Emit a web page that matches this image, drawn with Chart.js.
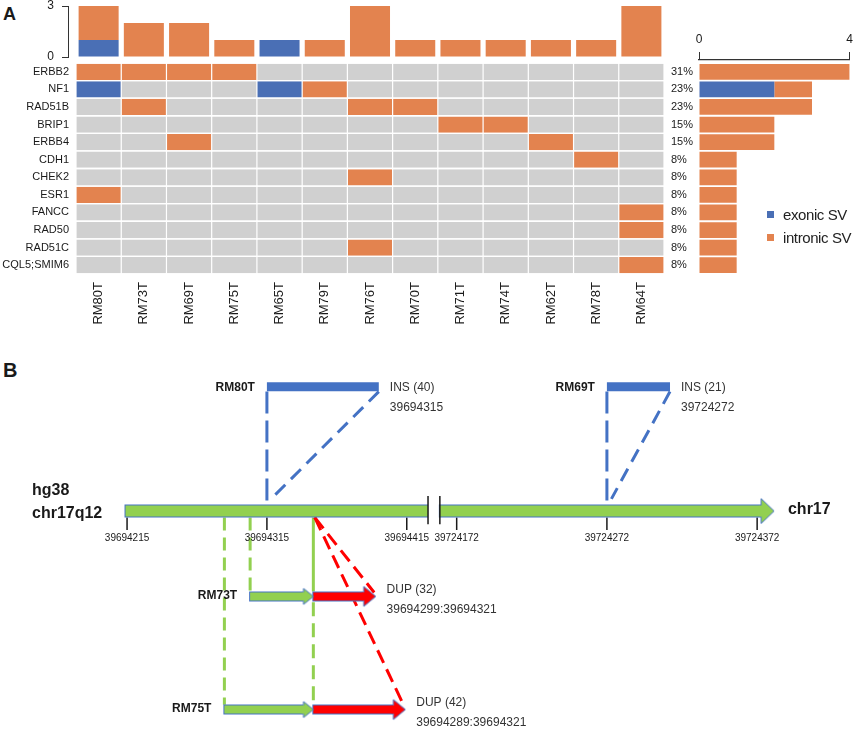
<!DOCTYPE html>
<html>
<head>
<meta charset="utf-8">
<script src="https://cdn.jsdelivr.net/npm/chart.js@4.4.1/dist/chart.umd.min.js"></script>
<style>
  body { margin: 0; background: #fff; }
  #fig { position: relative; width: 858px; height: 735px; overflow: hidden;
         font-family: "Liberation Sans", Arial, sans-serif; color: #1a1a1a; }
  .box { position: absolute; }
  .panel { position: absolute; font-weight: bold; line-height: 1; }
  #legend { position: absolute; left: 767px; top: 203px; font-size: 15px; color: #222; }
  #legend div { height: 23px; line-height: 23px; letter-spacing: -0.4px; white-space: nowrap; }
  #legend span { display: inline-block; width: 7px; height: 7px; margin-right: 9px; vertical-align: middle; position: relative; top: -2px; }
</style>
</head>
<body>
<div id="fig">
  <div class="panel" style="left:3px;top:5px;font-size:18px">A</div>
  <div class="panel" style="left:3px;top:360px;font-size:20px">B</div>

  <div class="box" style="left:0;top:0;width:670px;height:63px"><canvas id="topBars"></canvas></div>
  <div class="box" style="left:0;top:63px;width:670px;height:266px"><canvas id="grid"></canvas></div>
  <div class="box" style="left:671px;top:0;width:187px;height:280px"><canvas id="geneBars"></canvas></div>
  <div class="box" style="left:0;top:330px;width:858px;height:405px"><canvas id="svMap"></canvas></div>

  <div id="legend">
    <div><span style="background:#4A6FB5"></span>exonic SV</div>
    <div><span style="background:#E3834F"></span>intronic SV</div>
  </div>
</div>

<script>
// ---------- panel A data ----------
const samples = ['RM80T', 'RM73T', 'RM69T', 'RM75T', 'RM65T', 'RM79T', 'RM76T',
                 'RM70T', 'RM71T', 'RM74T', 'RM62T', 'RM78T', 'RM64T'];
const genes = ['ERBB2', 'NF1', 'RAD51B', 'BRIP1', 'ERBB4', 'CDH1', 'CHEK2',
               'ESR1', 'FANCC', 'RAD50', 'RAD51C', 'CQL5;SMIM6'];

// SV count per sample (top bars)
const sampleExonic   = [1, 0, 0, 0, 1, 0, 0, 0, 0, 0, 0, 0, 0];
const sampleIntronic = [2, 2, 2, 1, 0, 1, 3, 1, 1, 1, 1, 1, 3];

// SV count per gene (right bars)
const geneExonic   = [0, 2, 0, 0, 0, 0, 0, 0, 0, 0, 0, 0];
const geneIntronic = [4, 1, 3, 2, 2, 1, 1, 1, 1, 1, 1, 1];
const genePercent  = ['31%', '23%', '23%', '15%', '15%', '8%', '8%', '8%', '8%', '8%', '8%', '8%'];

// one row per gene, one char per sample: . none, e exonic, i intronic
const svGrid = [
  'iiii.........', // ERBB2
  'e...ei.......', // NF1
  '.i....ii.....', // RAD51B
  '........ii...', // BRIP1
  '..i.......i..', // ERBB4
  '...........i.', // CDH1
  '......i......', // CHEK2
  'i............', // ESR1
  '............i', // FANCC
  '............i', // RAD50
  '......i......', // RAD51C
  '............i', // CQL5;SMIM6
];

// ---------- panel B data ----------
const refTicksLeft  = [39694215, 39694315, 39694415];
const refTicksRight = [39724172, 39724272, 39724372];
const insSamples = ['RM80T', 'RM69T'];
const insPos = [39694315, 39724272];
const insLen = [40, 21];
const dupSamples = ['RM73T', 'RM75T'];
const dupStart = [39694299, 39694289];
const dupEnd = [39694321, 39694321];
const dupLen = [32, 42];

// ---------- styles / layout ----------
const ORANGE = '#E3834F', BLUE = '#4A6FB5', GREY = '#D0D0D0', INK = '#1a1a1a';
const B_BLUE = '#4472C4', B_GREEN = '#92D050', B_RED = '#FF0000';
Chart.defaults.font.family = '"Liberation Sans", Arial, sans-serif';
Chart.defaults.color = INK;

const common = {
  responsive: true, maintainAspectRatio: false, animation: false,
  plugins: { legend: { display: false }, tooltip: { enabled: false } }
};
// keep label overhang from shrinking the plot areas
const noPadY = (s, w) => { s.width = w; s.paddingTop = 0; s.paddingBottom = 0; };
const noPadX = (s, h) => { s.height = h; s.paddingLeft = 0; s.paddingRight = 0; };

// top bars: linear x so the y axis line can sit a few px left of the first column
new Chart(document.getElementById('topBars'), {
  type: 'bar',
  data: {
    datasets: [
      { label: 'exonic SV', data: sampleExonic.map((v, i) => ({ x: i + 0.5, y: v })), backgroundColor: BLUE },
      { label: 'intronic SV', data: sampleIntronic.map((v, i) => ({ x: i + 0.5, y: v })), backgroundColor: ORANGE }
    ]
  },
  options: {
    ...common,
    layout: { padding: { top: 6, bottom: 6, right: 6 } },
    barPercentage: 0.885, categoryPercentage: 1,
    scales: {
      x: { type: 'linear', stacked: true, display: false, offset: false, min: -0.177, max: samples.length,
           ticks: { stepSize: 1, includeBounds: false } },
      y: { stacked: true, min: 0, max: 3,
           ticks: { stepSize: 3, padding: 8, font: { size: 12 } },
           grid: { drawOnChartArea: false, tickLength: 6, color: '#333' },
           border: { color: '#333' },
           afterFit: s => noPadY(s, 68) }
    }
  }
});

// oncoprint grid: one stacked dataset per sample, one row per gene
const cellColor = c => c === 'e' ? BLUE : (c === 'i' ? ORANGE : GREY);
new Chart(document.getElementById('grid'), {
  type: 'bar',
  data: {
    labels: genes,
    datasets: samples.map((s, j) => ({
      label: s,
      data: genes.map(() => 1),
      backgroundColor: ctx => ctx.dataIndex == null ? GREY : cellColor(svGrid[ctx.dataIndex][j]),
      borderColor: '#fff',
      borderWidth: { left: 0.6, right: 0.6, top: 0, bottom: 0 },
      borderSkipped: false
    }))
  },
  options: {
    ...common,
    indexAxis: 'y',
    layout: { padding: { right: 6 } },
    barPercentage: 0.92, categoryPercentage: 1,
    scales: {
      x: { type: 'linear', stacked: true, offset: false, min: 0, max: samples.length, display: false },
      x2: { type: 'category', labels: samples, offset: true, position: 'bottom',
            grid: { display: false, drawTicks: false }, border: { display: false },
            ticks: { minRotation: 90, maxRotation: 90, autoSkip: false, padding: 8, font: { size: 13 } },
            afterFit: s => noPadX(s, 55) },
      y: { type: 'category', stacked: true, offset: true,
           grid: { display: false, drawTicks: false }, border: { display: false },
           ticks: { padding: 7, autoSkip: false, font: { size: 11 } },
           afterFit: s => noPadY(s, 76) }
    }
  }
});

// gene totals on the right
new Chart(document.getElementById('geneBars'), {
  type: 'bar',
  data: {
    labels: genes,
    datasets: [
      { label: 'exonic SV', data: geneExonic, backgroundColor: BLUE },
      { label: 'intronic SV', data: geneIntronic, backgroundColor: ORANGE }
    ]
  },
  options: {
    ...common,
    indexAxis: 'y',
    layout: { padding: { right: 4, bottom: 6 } },
    barPercentage: 0.9, categoryPercentage: 1,
    scales: {
      x: { type: 'linear', position: 'top', weight: 1, stacked: true, min: 0, max: 4,
           ticks: { stepSize: 4, padding: 5, font: { size: 12 } },
           grid: { drawOnChartArea: false, tickLength: 8, color: '#333' },
           border: { color: '#333', width: 1.2 },
           afterFit: s => { s.height = 60; } },
      xs: { type: 'linear', position: 'top', weight: 0,
            ticks: { display: false }, grid: { display: false }, border: { display: false },
            afterFit: s => { s.height = 3; } },
      y: { stacked: true, offset: true,
           grid: { display: false, drawTicks: false }, border: { display: false },
           ticks: { crossAlign: 'far', padding: 0, font: { size: 11 }, callback: (v, i) => genePercent[i] },
           afterFit: s => noPadY(s, 28) }
    }
  }
});

// ---------- panel B: structural diagram ----------
const PANEL_B_W = 858;
// broken reference axis: one linear scale per piece of chr17
const XL_MIN = 39694127.72, XL_MAX = 39694734.08;
const XR_MIN = 39723871.34, XR_MAX = 39724435.81;
const uL = (XL_MAX - XL_MIN) / PANEL_B_W;   // axis units per pixel
const uR = (XR_MAX - XR_MIN) / PANEL_B_W;

// schematic placement (axis units read off the figure, not to scale)
const refSpan = [[39694213.9, 39694430.2], [39724160.8, 39724383.2]];
const dupDrawStart = [39694303.0, 39694284.6];
const dupDrawBreak = 39694348.2;
const dupDrawTip = [39694392.7, 39694413.9];
const insDrawScale = 2;

// track rows (y scale is 0..405, top down)
const Y = { ins: 53, insBot: 58, chr: 180.5, chrTop: 174, chrBot: 187, tickBot: 200, tickLabel: 208,
            brkTop: 165, brkBot: 194, dup: [268, 384] };

function arrowHead(len, h, fill, bodyW) {
  const c = document.createElement('canvas');
  c.width = 2 * len + 4; c.height = h + 4;
  const g = c.getContext('2d');
  const cx = len + 2, cy = c.height / 2;
  g.beginPath();
  g.moveTo(cx, cy - h / 2); g.lineTo(cx + len, cy); g.lineTo(cx, cy + h / 2); g.closePath();
  g.fillStyle = fill; g.fill();
  g.strokeStyle = B_BLUE; g.lineWidth = 1; g.stroke();
  g.fillStyle = fill;
  g.fillRect(cx - 1.5, cy - bodyW / 2 + 1, 3, bodyW - 2);
  return c;
}
const chrHead = arrowHead(13, 25, B_GREEN, 13);
const greenHead = arrowHead(10, 16, B_GREEN, 10);
const redHead = arrowHead(12, 20, B_RED, 10);

const dsB = [];
function line(axis, pts, color, width, extra) {
  dsB.push(Object.assign({ xAxisID: axis, yAxisID: 'y', data: pts, borderColor: color, borderWidth: width,
    pointRadius: 0, borderCapStyle: 'butt', tension: 0, fill: false, spanGaps: false, order: 6 }, extra));
}
function block(axis, from, to, y, fill, w, u) {
  line(axis, [{ x: from - u, y }, { x: to, y }], B_BLUE, w, { order: 4 });
  line(axis, [{ x: from, y }, { x: to, y }], fill, w - 2, { order: 3 });
}
function head(axis, x, y, img) {
  dsB.push({ xAxisID: axis, yAxisID: 'y', data: [{ x, y }], showLine: false,
             pointRadius: 1, pointStyle: img, order: 2 });
}
function tickMarks(axis, vals) {
  line(axis, vals.flatMap(v => [{ x: v, y: Y.chrBot }, { x: v, y: Y.tickBot }, { x: v, y: null }]), INK, 1.5);
}

// reference chr17 with break
block('xl', refSpan[0][0], refSpan[0][1], Y.chr, B_GREEN, 13, uL);
block('xr', refSpan[1][0], refSpan[1][1] - 13 * uR, Y.chr, B_GREEN, 13, uR);
head('xr', refSpan[1][1] - 13 * uR, Y.chr, chrHead);
line('xl', [{ x: refSpan[0][1], y: Y.brkTop }, { x: refSpan[0][1], y: Y.brkBot }], INK, 1.5, { order: 1 });
line('xr', [{ x: refSpan[1][0], y: Y.brkTop }, { x: refSpan[1][0], y: Y.brkBot }], INK, 1.5, { order: 1 });
tickMarks('xl', refTicksLeft);
tickMarks('xr', refTicksRight);

// insertions
insPos.forEach((p, i) => {
  const axis = i === 0 ? 'xl' : 'xr';
  const end = p + insLen[i] * insDrawScale;
  line(axis, [{ x: p, y: Y.ins }, { x: end, y: Y.ins }], B_BLUE, 9, { order: 3 });
  line(axis, [{ x: p, y: Y.insBot }, { x: p, y: Y.chrTop - 1 }], B_BLUE, 3, { borderDash: [22, 7] });
  line(axis, [{ x: end, y: Y.insBot }, { x: p + 3, y: Y.chrTop - 6 }], B_BLUE, 3, { borderDash: [14, 8] });
});

// duplications
dupStart.forEach((s, i) => {
  const y = Y.dup[i];
  block('xl', dupDrawStart[i], dupDrawBreak - 10 * uL, y, B_GREEN, 10, uL);
  head('xl', dupDrawBreak - 10 * uL, y, greenHead);
  block('xl', dupDrawBreak, dupDrawTip[i] - 12 * uL, y, B_RED, 10, uL);
  head('xl', dupDrawTip[i] - 12 * uL, y, redHead);
  line('xl', [{ x: dupDrawStart[i], y: Y.chrBot }, { x: dupDrawStart[i], y: y - 5 }], B_GREEN, 3, { borderDash: [13, 7] });
  line('xl', [{ x: dupDrawBreak + 1, y: Y.chrBot }, { x: dupDrawTip[i] - 1, y: y - 4 }], B_RED, 3, { borderDash: [14, 7] });
});
line('xl', [{ x: dupDrawBreak, y: Y.chrBot }, { x: dupDrawBreak, y: Y.dup[0] - 5 }], B_GREEN, 3);
line('xl', [{ x: dupDrawBreak, y: Y.dup[0] + 6 }, { x: dupDrawBreak, y: Y.dup[1] - 5 }], B_GREEN, 3, { borderDash: [14, 7] });

// texts, placed through the same scales
const textsB = [];
function label(text, axis, value, dx, y, font, align, color) {
  textsB.push({ text, axis, value, dx, y, font, align: align || 'left', color: color || INK });
}
const F_BOLD = 'bold 12px "Liberation Sans", Arial, sans-serif';
const F_NORM = '12px "Liberation Sans", Arial, sans-serif';
const F_TICK = '10px "Liberation Sans", Arial, sans-serif';
const F_BIG = 'bold 16px "Liberation Sans", Arial, sans-serif';

refTicksLeft.forEach(v => label(String(v), 'xl', v, 0, Y.tickLabel, F_TICK, 'center'));
refTicksRight.forEach(v => label(String(v), 'xr', v, 0, Y.tickLabel, F_TICK, 'center'));
label('hg38', null, null, 32, 160, F_BIG);
label('chr17q12', null, null, 32, 183, F_BIG);
label('chr17', 'xr', refSpan[1][1], 14, 179, F_BIG);
insPos.forEach((p, i) => {
  const axis = i === 0 ? 'xl' : 'xr';
  const end = p + insLen[i] * insDrawScale;
  label(insSamples[i], axis, p, -12, Y.ins + 1, F_BOLD, 'right');
  label('INS (' + insLen[i] + ')', axis, end, 11, Y.ins + 1, F_NORM, 'left', '#333');
  label(String(p), axis, end, 11, Y.ins + 22, F_NORM, 'left', '#333');
});
dupStart.forEach((s, i) => {
  const y = Y.dup[i];
  label(dupSamples[i], 'xl', dupDrawStart[i], -13, y - 1, F_BOLD, 'right');
  label('DUP (' + dupLen[i] + ')', 'xl', dupDrawTip[i], 11, y - 7, F_NORM, 'left', '#333');
  label(s + ':' + dupEnd[i], 'xl', dupDrawTip[i], 11, y + 14, F_NORM, 'left', '#333');
});

const svText = {
  id: 'svText',
  afterDatasetsDraw(chart) {
    const { ctx } = chart;
    ctx.save();
    ctx.textBaseline = 'middle';
    textsB.forEach(t => {
      const x = (t.axis ? chart.scales[t.axis].getPixelForValue(t.value) : 0) + t.dx;
      const y = chart.scales.y.getPixelForValue(t.y);
      ctx.font = t.font; ctx.fillStyle = t.color; ctx.textAlign = t.align;
      ctx.fillText(t.text, x, y);
    });
    ctx.restore();
  }
};

new Chart(document.getElementById('svMap'), {
  type: 'line',
  data: { datasets: dsB },
  options: {
    ...common,
    layout: { padding: 0 },
    scales: {
      xl: { type: 'linear', min: XL_MIN, max: XL_MAX, display: false },
      xr: { type: 'linear', min: XR_MIN, max: XR_MAX, display: false },
      y: { type: 'linear', min: 0, max: 405, reverse: true, display: false }
    }
  },
  plugins: [svText]
});
</script>
</body>
</html>
